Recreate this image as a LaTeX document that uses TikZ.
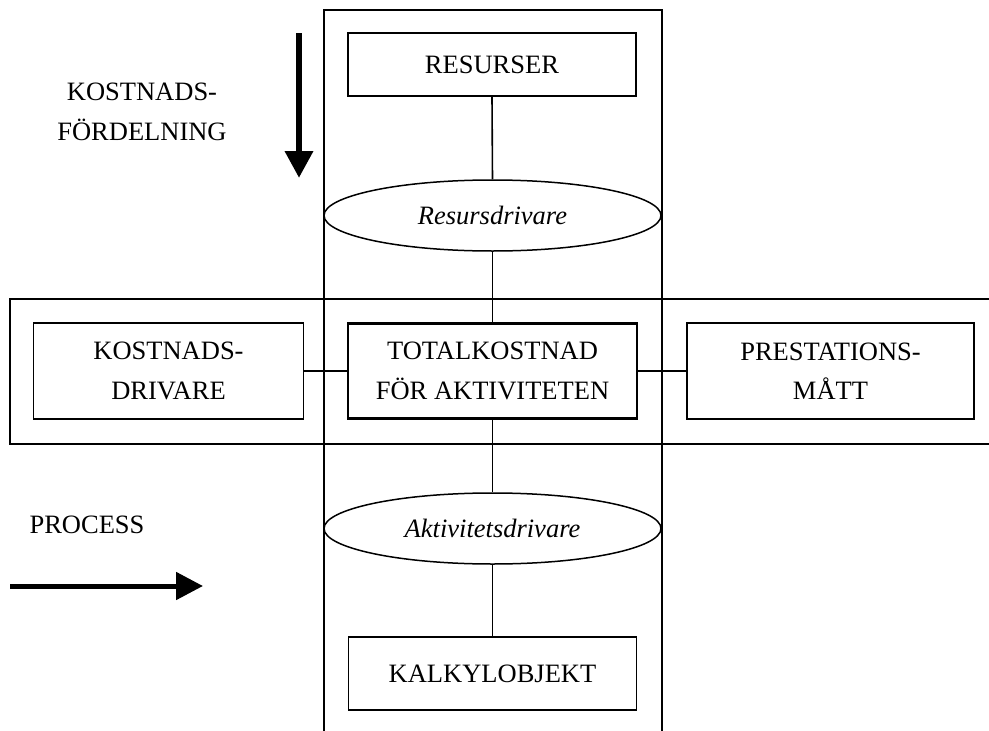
\documentclass[tikz,border=0pt]{standalone}
\usepackage{fontspec}
\setmainfont{Liberation Serif}
\usetikzlibrary{shapes.geometric,arrows.meta}
\tikzset{
  every node/.style={font=\fontsize{26.5}{39.5}\selectfont, align=center, inner sep=0pt},
  band/.style={line width=1.5pt},
  boxnode/.style={draw, line width=1.5pt, minimum width=288pt, minimum height=63pt},
  sidebox/.style={draw, line width=1.5pt, minimum width=270pt, minimum height=96pt},
  mainbox/.style={draw, line width=2.4pt, minimum width=289pt, minimum height=95pt},
  drv/.style={draw, ellipse, line width=1.5pt, minimum width=337pt, minimum height=71pt, font=\fontsize{26.5}{39.5}\selectfont\itshape},
  conn/.style={line width=1.6pt},
  bigarrow/.style={line width=6.5pt, -{Triangle[length=27pt,width=27pt]}},
  label/.style={}
}
\begin{document}
\begin{tikzpicture}[x=1pt,y=-1pt]
\useasboundingbox (0,0) rectangle (989,731);
% bands
\draw[band] (324,731) -- (324,10) -- (662,10) -- (662,731);
\draw[band] (989,299) -- (10,299) -- (10,444) -- (989,444);
% nodes
\node[boxnode] (res) at (492,64.5) {RESURSER};
\node[drv] (rd) at (492.5,215.5) {Resursdrivare};
\node[mainbox] (tot) at (492.5,371) {TOTALKOSTNAD\\FÖR AKTIVITETEN};
\node[sidebox] (kd) at (168.5,371) {KOSTNADS-\\DRIVARE};
\node[sidebox, minimum width=287pt] (pm) at (830.5,371) {PRESTATIONS-\\MÅTT};
\node[drv] (ad) at (492.5,528.5) {Aktivitetsdrivare};
\node[boxnode, minimum height=73pt] (ko) at (492.5,673.5) {KALKYLOBJEKT};
% connectors
\draw[conn] (res.south) -- (rd.north);
\draw[conn] (rd.south) -- (tot.north);
\draw[conn] (tot.south) -- (ad.north);
\draw[conn] (ad.south) -- (ko.north);
\draw[conn] (kd.east) -- (tot.west);
\draw[conn] (tot.east) -- (pm.west);
% labels
\node[label] (kf) at (142,112) {KOSTNADS-\\FÖRDELNING};
\node[label] (pr) at (87,525) {PROCESS};
% arrows
\coordinate (da1) at (299,33);
\coordinate (da2) at (299,178);
\draw[bigarrow] (da1) -- (da2);
\coordinate (ra1) at (10,586);
\coordinate (ra2) at (203,586);
\draw[bigarrow, line width=5pt] (ra1) -- (ra2);
\end{tikzpicture}
\end{document}
